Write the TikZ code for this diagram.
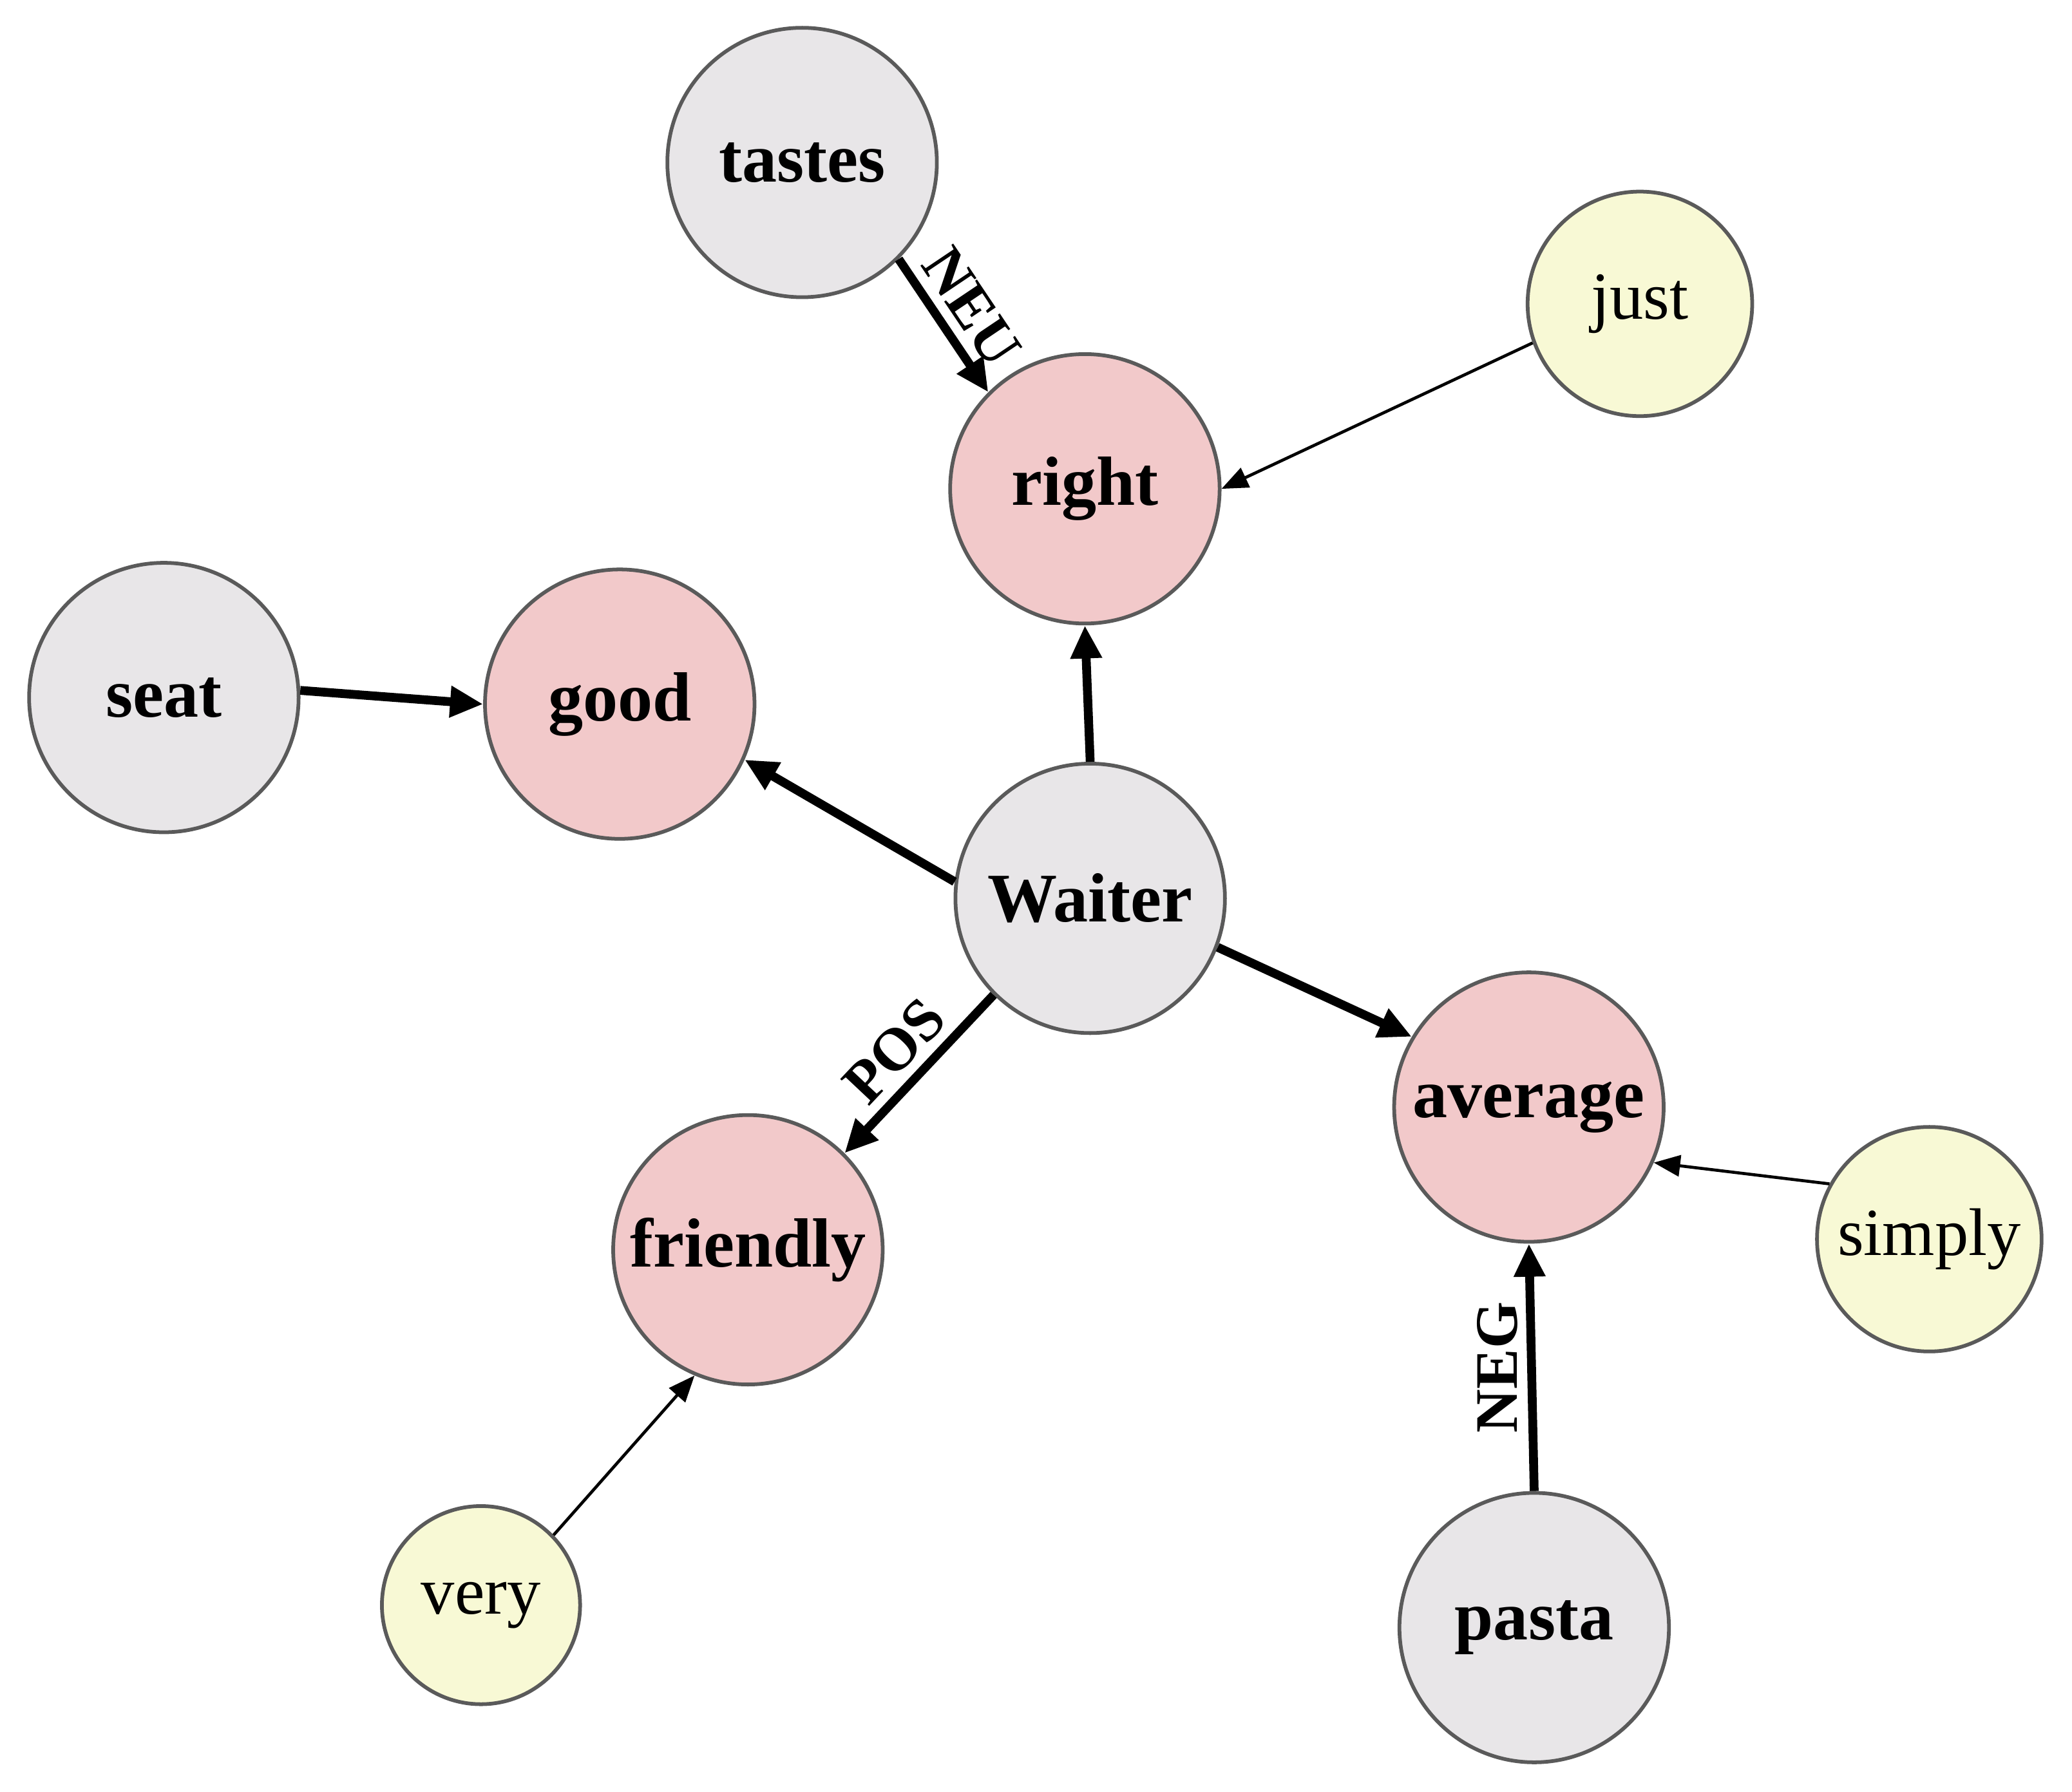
\documentclass[tikz,border=0pt]{standalone}
\usepackage{fontspec}
\setmainfont{Liberation Serif}
\usetikzlibrary{arrows.meta}
\definecolor{gfill}{HTML}{E8E6E8}
\definecolor{pfill}{HTML}{F2C9CA}
\definecolor{yfill}{HTML}{F8F9D5}
\definecolor{bord}{HTML}{5A5A5A}
\begin{document}
\begin{tikzpicture}[x=0.02cm,y=-0.02cm,
  base/.style={circle,draw=bord,line width=1.6pt,inner sep=0pt,font=\fontsize{29}{34}\selectfont},
  gray/.style={base,fill=gfill,minimum size=4.08cm,font=\fontsize{30}{34}\selectfont\bfseries},
  pink/.style={base,fill=pfill,minimum size=4.08cm,font=\fontsize{30}{34}\selectfont\bfseries},
  yel/.style={base,fill=yfill,minimum size=3.4cm},
  thick/.style={line width=3.8pt,-{Triangle[length=0.5cm,width=0.45cm]}},
  thin/.style={line width=1.3pt,-{Triangle[length=0.4cm,width=0.32cm]}},
  labf/.style={font=\fontsize{26}{30}\selectfont\bfseries,midway,inner sep=4pt},
  lab/.style={labf,sloped}]
\useasboundingbox (0,0) rectangle (1568,1356);
\node[gray] (tastes) at (607,123) {tastes};
\node[yel] (just) at (1241,230) {just};
\node[pink] (right) at (821,370) {right};
\node[gray] (seat) at (124,528) {seat};
\node[pink] (good) at (469,533) {good};
\node[gray] (waiter) at (825,680) {Waiter};
\node[pink] (average) at (1157,838) {average};
\node[yel] (simply) at (1460,938) {simply};
\node[pink] (friendly) at (566,946) {friendly};
\node[yel,minimum size=3cm] (very) at (364,1215) {very};
\node[gray] (pasta) at (1161,1232) {pasta};
\draw[thick] (tastes.-45) -- node[lab,above]{NEU} (right.135);
\draw[thin] (just.200) -- (right.0);
\draw[thick] (seat.3) -- (good.180);
\draw[thick] (waiter.173) -- (good.-24);
\draw[thick] (waiter.90) -- (right.-90);
\draw[thick] (waiter.-135) -- node[lab,above]{POS} (friendly.45);
\draw[thick] (waiter.-21) -- (average.149);
\draw[thin] (simply.151) -- (average.-24);
\draw[thin] (very.44) -- (friendly.-113);
\draw[thick] (pasta.90) -- node[labf,rotate=90,anchor=south]{NEG} (average.-90);
\end{tikzpicture}
\end{document}
